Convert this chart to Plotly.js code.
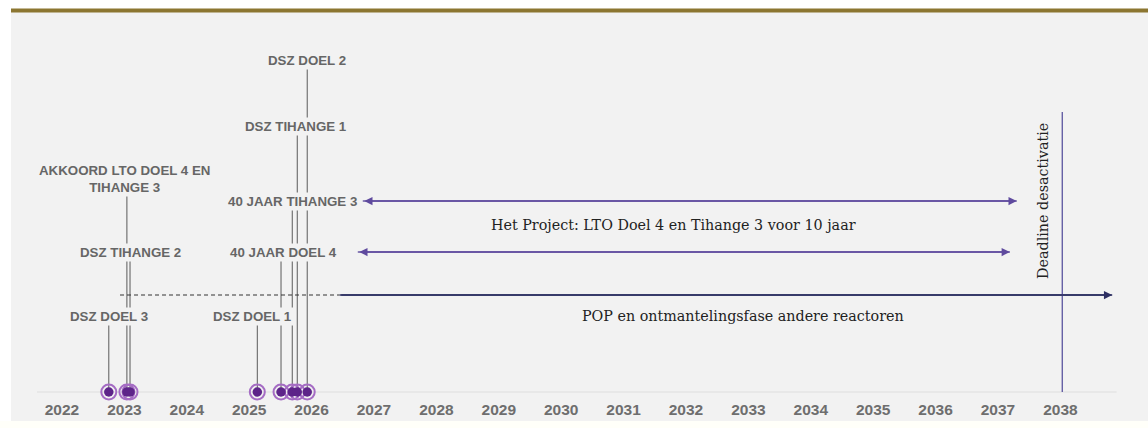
<!DOCTYPE html>
<html>
<head>
<meta charset="utf-8">
<script src="https://cdn.plot.ly/plotly-3.0.1.min.js"></script>
<style>html,body{margin:0;padding:0;background:#fff;}#chart{width:1148px;height:428px;}</style>
</head>
<body>
<div id="chart"></div>
<script>
// ---- data ----
const years = [2022, 2023, 2024, 2025, 2026, 2027, 2028, 2029, 2030, 2031, 2032, 2033, 2034, 2035, 2036, 2037, 2038];
const eventNames = ['DSZ DOEL 3', 'AKKOORD LTO DOEL 4 EN<br>TIHANGE 3', 'DSZ TIHANGE 2', 'DSZ DOEL 1',
                    '40 JAAR DOEL 4', '40 JAAR TIHANGE 3', 'DSZ TIHANGE 1', 'DSZ DOEL 2'];
const eventDates = [2022.75, 2023.04, 2023.09, 2025.13, 2025.51, 2025.69, 2025.77, 2025.93];
const eventLevels = [76, 213, 140, 76, 140, 191, 266, 332];
const labelShift = [0, -2, 0, -5, 2, 0, -1, 0];

const periodNames = ['Het Project: LTO Doel 4 en Tihange 3 voor 10 jaar', 'POP en ontmantelingsfase andere reactoren'];
const periodTextX = [2031.8, 2032.91];
const periodTextLevel = [167, 76];

const arrowStart = [2026.82, 2026.74];
const arrowEnd = [2037.30, 2037.19];
const arrowLevel = [191, 140];

const popDashStart = 2022.93, popSolidStart = 2026.45, popEnd = 2038.83, popLevel = 97;
const deadlineName = 'Deadline desactivatie';
const deadlineDate = 2038.03, deadlineTop = 280, deadlineTextX = 2037.72, deadlineTextLevel = 191;
const yearLabelLevel = -19;

// ---- styles ----
const BG = '#f2f2f2';
const labelFont = {family: 'Liberation Sans, Arial, sans-serif', size: 13.3, color: '#666', weight: 700};
const serifFont = {family: 'DejaVu Serif, serif', size: 14.3, color: '#222'};

const traces = [];
// vertical event lines
eventDates.forEach((d, i) => {
  traces.push({x: [d, d], y: [0, eventLevels[i]], mode: 'lines', line: {color: '#5a5a5a', width: 1},
               hoverinfo: 'skip', showlegend: false});
});
// POP line: dashed part and solid part
traces.push({x: [popDashStart, popSolidStart], y: [popLevel, popLevel], mode: 'lines',
             line: {color: '#333', width: 1, dash: '4px,3px'}, hoverinfo: 'skip', showlegend: false});
traces.push({x: [popSolidStart, popEnd], y: [popLevel, popLevel], mode: 'lines',
             line: {color: '#2d2f62', width: 1.5}, hoverinfo: 'skip', showlegend: false});
// arrow lines
arrowStart.forEach((s, i) => {
  traces.push({x: [s, arrowEnd[i]], y: [arrowLevel[i], arrowLevel[i]], mode: 'lines',
               line: {color: '#6a5aa6', width: 1.5}, hoverinfo: 'skip', showlegend: false});
});
// deadline line
traces.push({x: [deadlineDate, deadlineDate], y: [0, deadlineTop], mode: 'lines',
             line: {color: '#5b55a0', width: 1.3}, hoverinfo: 'skip', showlegend: false});
// event markers (outer ring + inner dot)
traces.push({x: eventDates, y: eventDates.map(() => 0), mode: 'markers',
             marker: {symbol: 'circle-open', size: 15, color: '#a56cc4', line: {width: 2}},
             hoverinfo: 'skip', showlegend: false});
traces.push({x: eventDates, y: eventDates.map(() => 0), mode: 'markers',
             marker: {size: 9.5, color: '#5d2489', line: {width: 0}}, hoverinfo: 'skip', showlegend: false});
// year labels
traces.push({x: years, y: years.map(() => yearLabelLevel), mode: 'text', text: years.map(String),
             textfont: {family: 'Liberation Sans, Arial, sans-serif', size: 15.5, color: '#6e6e6e', weight: 700},
             hoverinfo: 'skip', showlegend: false});

const annotations = [];
eventNames.forEach((n, i) => {
  annotations.push({x: eventDates[i], y: eventLevels[i], xref: 'x', yref: 'y', text: n, showarrow: false,
                    xshift: labelShift[i], font: labelFont, bgcolor: BG, borderpad: 1, align: 'center'});
});
periodNames.forEach((n, i) => {
  annotations.push({x: periodTextX[i], y: periodTextLevel[i], xref: 'x', yref: 'y', text: n,
                    showarrow: false, font: serifFont});
});
annotations.push({x: deadlineTextX, y: deadlineTextLevel, xref: 'x', yref: 'y', text: deadlineName,
                  showarrow: false, textangle: -90, font: serifFont});
// arrowheads
arrowStart.forEach((s, i) => {
  annotations.push({x: arrowEnd[i], y: arrowLevel[i], ax: s, ay: arrowLevel[i], xref: 'x', yref: 'y',
                    axref: 'x', ayref: 'y', text: '', showarrow: true, arrowside: 'end+start',
                    arrowhead: 2, arrowsize: 1.1, arrowwidth: 1.5, arrowcolor: '#5f4a9e', standoff: 0, startstandoff: 0});
});
annotations.push({x: popEnd, y: popLevel, ax: popSolidStart, ay: popLevel, xref: 'x', yref: 'y',
                  axref: 'x', ayref: 'y', text: '', showarrow: true, arrowhead: 2, arrowsize: 1.1,
                  arrowwidth: 1.5, arrowcolor: '#2d2f62', standoff: 0});

const H = 428;
const shapes = [
  // gray panel
  {type: 'rect', xref: 'paper', yref: 'paper', x0: 11 / 1148, x1: 1, y0: 1 - 421 / H, y1: 1 - 12 / H,
   fillcolor: BG, line: {width: 0}, layer: 'below'},
  // bottom cream strip
  {type: 'rect', xref: 'paper', yref: 'paper', x0: 0, x1: 1, y0: 0, y1: 1 - 421 / H,
   fillcolor: '#fffff9', line: {width: 0}, layer: 'below'},
  // gold top rule
  {type: 'rect', xref: 'paper', yref: 'paper', x0: 11 / 1148, x1: 1, y0: 1 - 12.5 / H, y1: 1 - 8.5 / H,
   fillcolor: '#8c7631', line: {width: 0}, layer: 'below'},
  // faint baseline
  {type: 'line', xref: 'x', yref: 'y', x0: 2021.6, x1: 2038.9, y0: 0, y1: 0,
   line: {color: '#dedede', width: 1}, layer: 'below'}
];

const layout = {
  width: 1148, height: H,
  margin: {l: 0, r: 0, t: 0, b: 0},
  paper_bgcolor: '#ffffff', plot_bgcolor: 'rgba(0,0,0,0)',
  xaxis: {range: [2022 - 62 / 62.4, 2022 + (1148 - 62) / 62.4], visible: false, fixedrange: true},
  yaxis: {range: [392 - H, 392], visible: false, fixedrange: true},
  showlegend: false,
  shapes: shapes,
  annotations: annotations
};

Plotly.newPlot('chart', traces, layout, {displayModeBar: false, staticPlot: true});
</script>
</body>
</html>
